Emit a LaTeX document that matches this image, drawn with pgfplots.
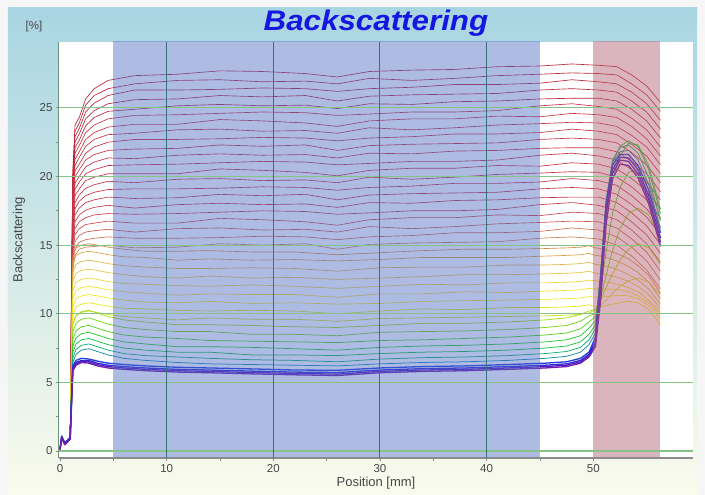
\documentclass[border=0pt]{standalone}
\usepackage{fontspec}
\setmainfont{Liberation Sans}
\usepackage{pgfplots}
\usepackage{pgfplotstable}
\pgfplotsset{compat=1.18}

\definecolor{panelTop}{RGB}{168,213,226}
\definecolor{panelBot}{RGB}{250,251,236}
\definecolor{outer}{RGB}{246,246,246}
\definecolor{titleblue}{RGB}{22,22,226}
\definecolor{tickgray}{RGB}{70,70,70}
\definecolor{axisgray}{RGB}{140,140,140}
\definecolor{axisgreen}{RGB}{110,150,120}
\definecolor{gridgreen}{RGB}{135,195,135}
\definecolor{gridteal}{RGB}{55,115,125}
\definecolor{bandblue}{RGB}{77,106,195}
\definecolor{bandred}{RGB}{177,93,111}
% curve colours, bottom (violet) to top (red)
\definecolor{cA1}{RGB}{110,30,170}
\definecolor{cA2}{RGB}{80,30,190}
\definecolor{cA3}{RGB}{50,40,215}
\definecolor{cA4}{RGB}{30,60,220}
\definecolor{cB1}{RGB}{20,140,170}
\definecolor{cB2}{RGB}{20,175,120}
\definecolor{cB3}{RGB}{25,195,70}
\definecolor{cB4}{RGB}{40,205,40}
\definecolor{cB5}{RGB}{80,210,30}
\definecolor{cB6}{RGB}{120,215,25}
\definecolor{cB7}{RGB}{165,222,20}
\definecolor{cC1}{RGB}{200,228,20}
\definecolor{cC2}{RGB}{228,230,20}
\definecolor{cC3}{RGB}{242,232,25}
\definecolor{cC4}{RGB}{242,225,35}
\definecolor{cC5}{RGB}{238,212,45}
\definecolor{cC6}{RGB}{232,198,55}
\definecolor{cC7}{RGB}{225,180,60}
\definecolor{cC8}{RGB}{218,160,65}
\definecolor{cC9}{RGB}{212,140,70}
\definecolor{cR1}{RGB}{210,125,75}
\definecolor{cR2}{RGB}{208,105,75}
\definecolor{cR3}{RGB}{206,88,75}
\definecolor{cR4}{RGB}{204,72,75}
\definecolor{cR5}{RGB}{202,60,72}
\definecolor{cR}{RGB}{200,48,68}
\definecolor{cRd}{RGB}{185,38,60}

% lower curves: blue (a), green (b), yellow (c)
\pgfplotstableread{
x a1 a2 a3 a4 b1 b2 b3 b4 b5 b6 b7 c1 c2 c3 c4 c5 c6 c7 c8 c9
0 0.1 0.15 0.05 0.2 0.15 0.15 0.15 0.15 0.15 0.15 0.15 0.15 0.15 0.15 0.15 0.15 0.15 0.15 0.15 0.15
0.15 1.0 0.95 1.1 1.05 0.95 0.95 0.95 0.95 0.95 0.95 0.95 0.95 0.95 0.95 0.95 0.95 0.95 0.95 0.95 0.95
0.45 0.45 0.5 0.55 0.6 0.5 0.5 0.5 0.5 0.5 0.5 0.5 0.5 0.5 0.5 0.5 0.5 0.5 0.5 0.5 0.5
0.95 0.85 0.9 0.95 1.0 0.9 0.9 0.9 0.9 0.9 0.9 0.9 0.9 0.9 0.9 0.9 0.9 0.9 0.9 0.9 0.9
1.08 3.4 3.6 3.8 4.0 3.75 4.0 4.2 4.5 4.8 5.1 5.4 5.75 6.1 6.5 6.85 7.2 7.6 8.0 8.35 8.7
1.2 5.85 5.95 6.05 6.2 6.45 6.8 7.2 7.65 8.15 8.7 9.25 9.3 9.9 10.5 11.1 11.7 12.35 13.0 13.65 14.2
1.5 6.25 6.35 6.45 6.6 7.05 7.4 7.8 8.25 8.75 9.3 9.85 9.9 10.5 11.1 11.7 12.3 12.95 13.6 14.25 14.8
2.0 6.45 6.55 6.6 6.75 7.35 7.7 8.1 8.55 9.05 9.6 10.15 10.1 10.7 11.3 11.9 12.5 13.15 13.8 14.45 15.0
2.7 6.4 6.5 6.6 6.7 7.45 7.8 8.2 8.65 9.15 9.7 10.25 10.2 10.8 11.4 12.0 12.6 13.25 13.9 14.55 15.1
3.5 6.2 6.3 6.4 6.55 7.25 7.6 8.0 8.45 8.95 9.5 10.05 10.1 10.7 11.3 11.9 12.5 13.15 13.8 14.45 15.0
4.5 6.05 6.15 6.25 6.4 7.0 7.35 7.75 8.2 8.7 9.25 9.8 9.95 10.55 11.15 11.75 12.35 13.0 13.65 14.3 14.85
6 5.95 6.05 6.15 6.3 6.75 7.1 7.5 7.95 8.45 9.0 9.55 9.8 10.4 11.0 11.6 12.2 12.85 13.5 14.15 14.7
8 5.85 5.95 6.05 6.2 6.6 6.95 7.35 7.8 8.3 8.85 9.4 9.7 10.35 10.85 11.5 12.15 12.7 13.4 14.1 14.55
11 5.75 5.85 5.95 6.1 6.45 6.85 7.2 7.6 8.2 8.7 9.2 9.55 10.25 10.8 11.35 12.05 12.6 13.3 13.9 14.55
14 5.7 5.8 5.9 6.05 6.35 6.75 7.2 7.6 8.05 8.7 9.2 9.7 10.2 10.9 11.45 12.0 12.75 13.3 14.0 14.6
18 5.62 5.72 5.82 5.98 6.3 6.65 7.0 7.55 8.0 8.5 9.15 9.6 10.25 10.75 11.4 12.1 12.6 13.35 13.9 14.5
22 5.55 5.65 5.75 5.9 6.25 6.6 7.0 7.45 7.95 8.5 9.05 9.6 10.2 10.8 11.4 12.0 12.65 13.3 13.95 14.5
26 5.5 5.6 5.72 5.88 6.2 6.5 6.95 7.35 7.9 8.4 9.0 9.45 10.0 10.7 11.2 11.85 12.5 13.1 13.85 14.3
30 5.7 5.8 5.9 6.05 6.35 6.7 7.1 7.55 8.05 8.65 9.15 9.65 10.2 10.75 11.45 12.0 12.6 13.35 13.95 14.45
34 5.8 5.9 6.0 6.15 6.45 6.8 7.2 7.65 8.1 8.7 9.3 9.7 10.35 10.9 11.45 12.15 12.7 13.4 14.1 14.6
38 5.85 5.95 6.05 6.2 6.5 6.85 7.25 7.7 8.2 8.75 9.3 9.75 10.3 10.95 11.6 12.1 12.85 13.4 14.1 14.7
42 5.95 6.05 6.15 6.3 6.6 6.95 7.35 7.8 8.3 8.85 9.4 9.8 10.45 11.0 11.55 12.25 12.85 13.55 14.1 14.7
45.5 6.05 6.15 6.25 6.4 6.75 7.1 7.5 7.95 8.45 9.0 9.55 9.85 10.45 11.05 11.65 12.25 12.9 13.55 14.2 14.75
47.5 6.15 6.25 6.35 6.5 6.9 7.25 7.65 8.1 8.6 9.15 9.7 9.9 10.5 11.1 11.7 12.3 12.95 13.6 14.25 14.8
48.8 6.4 6.5 6.6 6.75 7.2 7.55 7.95 8.4 8.9 9.45 9.95 9.95 10.55 11.15 11.75 12.35 13.0 13.65 14.3 14.85
49.6 6.85 6.95 7.05 7.2 7.75 8.1 8.5 8.95 9.4 9.85 10.2 10.05 10.65 11.25 11.85 12.45 13.1 13.75 14.4 14.95
50.2 7.6 7.8 8.0 8.3 8.6 8.9 9.2 9.5 9.8 10.0 10.3 10.3 10.5 11.2 11.8 12.4 12.95 13.6 14.25 14.8
50.7 11.0 11.8 12.3 12.8 13.0 13.2 13.0 12.5 11.8 11.2 11.0 10.6 10.5 11.2 11.8 12.35 12.9 13.55 14.2 14.75
51.2 16.5 17.2 17.6 18.0 18.2 18.3 17.8 16.5 14.5 12.8 11.9 11.0 10.6 11.25 11.8 12.3 12.85 13.45 14.1 14.65
51.8 19.8 20.2 20.5 20.8 21.0 21.2 21.0 19.8 17.3 14.6 12.9 11.5 10.7 11.3 11.8 12.25 12.75 13.35 13.95 14.5
52.5 20.9 21.2 21.4 21.6 21.8 22.1 22.2 21.5 19.2 16.2 13.9 12.0 10.8 11.35 11.75 12.1 12.6 13.15 13.75 14.3
53.3 20.8 21.1 21.35 21.6 21.9 22.3 22.6 22.4 20.3 17.3 14.7 12.4 10.9 11.3 11.6 11.9 12.35 12.85 13.45 14.0
54.2 19.9 20.2 20.5 20.8 21.2 21.7 22.2 22.3 20.5 17.7 15.1 12.6 10.8 11.1 11.3 11.6 12.0 12.45 13.0 13.5
55.2 18.0 18.3 18.6 19.0 19.4 19.9 20.5 20.8 19.5 17.2 14.8 12.3 10.3 10.6 10.8 11.0 11.4 11.8 12.3 12.8
56.3 14.9 15.2 15.5 15.9 16.2 16.8 17.3 17.6 16.9 15.4 13.6 11.4 9.2 9.6 9.9 10.1 10.4 10.7 11.1 11.5
}\lowtab

% upper curves: orange to red
\pgfplotstableread{
x k1 k2 k3 k4 k5 k6 k7 k8 k9 k10 k11 k12 k13 k14 k15 k16 k17 k18 k19 k20 k21 k22
0 0.15 0.15 0.15 0.15 0.15 0.15 0.15 0.15 0.15 0.15 0.15 0.15 0.15 0.15 0.15 0.15 0.15 0.15 0.15 0.15 0.15 0.15
0.15 0.95 0.95 0.95 0.95 0.95 0.95 0.95 0.95 0.95 0.95 0.95 0.95 0.95 0.95 0.95 0.95 0.95 0.95 0.95 0.95 0.95 0.95
0.45 0.5 0.5 0.5 0.5 0.5 0.5 0.5 0.5 0.5 0.5 0.5 0.5 0.5 0.5 0.5 0.5 0.5 0.5 0.5 0.5 0.5 0.5
0.95 0.9 0.9 0.9 0.9 0.9 0.9 0.9 0.9 0.9 0.9 0.9 0.9 0.9 0.9 0.9 0.9 0.9 0.9 0.9 0.9 0.9 0.9
1.08 6.8 7.0 7.3 7.6 7.8 8.1 8.4 8.6 8.9 9.2 9.5 9.7 10.0 10.3 10.5 10.8 11.1 11.3 11.6 11.9 12.2 12.4
1.2 13.2 13.6 14.0 14.45 14.85 15.2 15.6 16.0 16.4 16.7 17.1 17.4 17.8 18.1 18.4 18.7 19.0 19.3 19.6 19.9 20.2 20.4
1.4 14.25 14.75 15.25 15.75 16.2 16.7 17.2 17.65 18.1 18.6 19.05 19.5 19.95 20.4 20.8 21.25 21.7 22.1 22.5 22.9 23.3 23.75
1.8 14.7 15.2 15.7 16.2 16.7 17.2 17.7 18.2 18.65 19.1 19.6 20.0 20.5 20.9 21.4 21.8 22.25 22.65 23.1 23.5 23.9 24.3
2.4 14.85 15.4 15.95 16.5 17.0 17.55 18.1 18.6 19.15 19.7 20.2 20.7 21.2 21.7 22.2 22.7 23.2 23.7 24.2 24.7 25.2 25.65
3.2 14.9 15.5 16.05 16.6 17.2 17.75 18.3 18.85 19.4 19.95 20.5 21.05 21.6 22.15 22.7 23.2 23.75 24.3 24.8 25.35 25.9 26.4
4.5 15.0 15.6 16.15 16.75 17.3 17.9 18.5 19.05 19.65 20.2 20.8 21.35 21.9 22.5 23.05 23.6 24.2 24.75 25.3 25.9 26.4 27.0
7 14.8 15.5 15.95 16.6 17.25 17.7 18.4 19.1 19.55 20.2 20.85 21.3 22.0 22.7 23.15 23.8 24.45 24.9 25.6 26.3 26.75 27.35
11 14.85 15.5 16.2 16.6 17.3 17.95 18.45 19.1 19.8 20.2 20.9 21.55 22.05 22.7 23.4 23.8 24.5 25.15 25.65 26.3 27.0 27.45
15 15.1 15.55 16.25 16.95 17.4 18.05 18.7 19.15 19.85 20.55 21.0 21.65 22.3 22.75 23.45 24.15 24.6 25.25 25.9 26.35 27.05 27.7
19 15.0 15.65 16.1 16.85 17.5 17.95 18.6 19.25 19.7 20.45 21.1 21.55 22.2 22.85 23.3 24.05 24.7 25.15 25.8 26.45 26.9 27.65
23 15.1 15.6 16.15 16.7 17.45 18.0 18.7 19.2 19.75 20.3 21.05 21.6 22.3 22.8 23.35 23.9 24.65 25.2 25.9 26.4 26.95 27.5
26 14.7 15.4 15.95 16.45 17.25 17.75 18.3 19.0 19.55 20.05 20.85 21.35 21.9 22.6 23.15 23.65 24.45 24.95 25.5 26.2 26.75 27.25
29 15.05 15.6 16.35 16.85 17.35 18.1 18.65 19.2 19.95 20.45 20.95 21.7 22.25 22.8 23.55 24.05 24.55 25.3 25.85 26.4 27.15 27.65
33 15.15 15.7 16.2 17.0 17.5 18.05 18.75 19.3 19.8 20.6 21.1 21.65 22.35 22.9 23.4 24.2 24.7 25.25 25.95 26.5 27.0 27.75
37 15.2 15.9 16.35 17.0 17.5 18.25 18.8 19.5 19.95 20.6 21.1 21.85 22.4 23.1 23.55 24.2 24.7 25.45 26.0 26.7 27.15 27.8
41 15.25 15.9 16.55 17.2 17.6 18.3 18.85 19.5 20.15 20.8 21.2 21.9 22.45 23.1 23.75 24.4 24.8 25.5 26.05 26.7 27.35 28.0
45 15.5 16.0 16.65 17.15 17.95 18.45 19.1 19.6 20.25 20.75 21.55 22.05 22.7 23.2 23.85 24.35 25.15 25.65 26.3 26.8 27.45 28.05
48 15.6 16.25 16.75 17.4 18.1 18.5 19.2 19.85 20.35 21.0 21.7 22.1 22.8 23.45 23.95 24.6 25.3 25.7 26.4 27.05 27.55 28.2
50.5 15.45 16.1 16.7 17.3 17.9 18.5 19.1 19.7 20.3 20.9 21.5 22.1 22.7 23.3 23.9 24.5 25.1 25.7 26.3 26.9 27.5 28.1
52.2 15.0 15.6 16.25 16.85 17.5 18.1 18.7 19.35 19.95 20.55 21.2 21.8 22.45 23.05 23.65 24.3 24.9 25.5 26.15 26.75 27.4 28.0
53.6 14.2 14.85 15.45 16.1 16.7 17.35 17.95 18.6 19.25 19.85 20.5 21.1 21.75 22.35 23.0 23.65 24.25 24.9 25.5 26.15 26.75 27.4
55 13.2 13.85 14.5 15.1 15.75 16.4 17.05 17.65 18.3 18.95 19.6 20.2 20.85 21.5 22.15 22.75 23.4 24.05 24.7 25.3 25.95 26.6
56.3 11.8 12.45 13.1 13.75 14.4 15.05 15.7 16.35 17.0 17.65 18.3 18.9 19.55 20.2 20.85 21.5 22.15 22.8 23.45 24.1 24.75 25.4
}\hightab

\newcommand\crv[3]{\addplot[#3] table[x=x,y=#2]{#1};}

\begin{document}
\begin{tikzpicture}
\useasboundingbox (-59pt,-37pt) rectangle (646pt,458pt);
\fill[outer] (-59pt,-37pt) rectangle (646pt,458pt);
\shade[top color=panelTop, bottom color=panelBot] (-51pt,-37pt) rectangle (638pt,450pt);
\begin{axis}[
  scale only axis, width=634pt, height=416pt,
  xmin=-0.1, xmax=59.35, ymin=-0.51, ymax=29.8,
  axis background/.style={fill=white},
  axis on top,
  axis x line*=bottom, axis y line*=left,
  x axis line style={draw=axisgray, line width=1.6pt},
  y axis line style={draw=axisgreen, line width=1pt},
  xtick={0,10,...,50}, ytick={0,5,...,25},
  minor x tick num=1, minor y tick num=1,
  tick align=outside, major tick length=3pt, minor tick length=3pt,
  tick style={draw=axisgray, line width=0.8pt},
  ymajorgrids, major grid style={draw=gridgreen, line width=1.1pt},
  extra x ticks={10,20,30,40}, extra x tick labels={},
  extra x tick style={grid=major, major grid style={draw=gridteal, line width=1pt}, major tick length=0pt},
  tick label style={font=\fontsize{11.5}{13}\selectfont, text=tickgray},
  /pgf/number format/assume math mode=true,
  every axis title/.style={at={(axis description cs:0.5,1.0288)}, anchor=base, inner sep=0pt, text=titleblue},
  title={\scalebox{1.16}[1.05]{\fontsize{27}{30}\selectfont\bfseries\itshape Backscattering}},
  every axis x label/.style={at={(axis description cs:0.5,-0.0697)}, anchor=base, inner sep=0pt, text=tickgray, font=\fontsize{13}{15}\selectfont},
  xlabel={Position [mm]},
  every axis y label/.style={at={(axis description cs:-0.0631,0.524)}, rotate=90, anchor=center, inner sep=0pt, text=tickgray, font=\fontsize{13}{15}\selectfont},
  ylabel={Backscattering},
  every axis plot/.append style={line join=round},
]
% red family
\crv{\hightab}{k22}{draw=cRd, line width=0.65pt}
\crv{\hightab}{k21}{draw=cRd, line width=0.65pt}
\crv{\hightab}{k20}{draw=cRd, line width=0.65pt}
\crv{\hightab}{k19}{draw=cRd, line width=0.65pt}
\crv{\hightab}{k18}{draw=cRd, line width=0.65pt}
\crv{\hightab}{k17}{draw=cR, line width=0.65pt}
\crv{\hightab}{k16}{draw=cR, line width=0.65pt}
\crv{\hightab}{k15}{draw=cR, line width=0.65pt}
\crv{\hightab}{k14}{draw=cR, line width=0.65pt}
\crv{\hightab}{k13}{draw=cR, line width=0.65pt}
\crv{\hightab}{k12}{draw=cR, line width=0.65pt}
\crv{\hightab}{k11}{draw=cR, line width=0.65pt}
\crv{\hightab}{k10}{draw=cR, line width=0.65pt}
\crv{\hightab}{k9}{draw=cR, line width=0.65pt}
\crv{\hightab}{k8}{draw=cR, line width=0.65pt}
\crv{\hightab}{k7}{draw=cR, line width=0.65pt}
\crv{\hightab}{k6}{draw=cR, line width=0.65pt}
\crv{\hightab}{k5}{draw=cR5, line width=0.65pt}
\crv{\hightab}{k4}{draw=cR4, line width=0.65pt}
\crv{\hightab}{k3}{draw=cR3, line width=0.65pt}
\crv{\hightab}{k2}{draw=cR2, line width=0.65pt}
\crv{\hightab}{k1}{draw=cR1, line width=0.65pt}
% yellow family
\crv{\lowtab}{c9}{draw=cC9, line width=0.65pt}
\crv{\lowtab}{c8}{draw=cC8, line width=0.65pt}
\crv{\lowtab}{c7}{draw=cC7, line width=0.65pt}
\crv{\lowtab}{c6}{draw=cC6, line width=0.65pt}
\crv{\lowtab}{c5}{draw=cC5, line width=0.65pt}
\crv{\lowtab}{c4}{draw=cC4, line width=0.65pt}
\crv{\lowtab}{c3}{draw=cC3, line width=0.65pt}
\crv{\lowtab}{c2}{draw=cC2, line width=0.65pt}
\crv{\lowtab}{c1}{draw=cC1, line width=0.65pt}
% green family
\crv{\lowtab}{b7}{draw=cB7, line width=0.75pt}
\crv{\lowtab}{b6}{draw=cB6, line width=0.75pt}
\crv{\lowtab}{b5}{draw=cB5, line width=0.75pt}
\crv{\lowtab}{b4}{draw=cB4, line width=0.75pt}
\crv{\lowtab}{b3}{draw=cB3, line width=0.75pt}
\crv{\lowtab}{b2}{draw=cB2, line width=0.75pt}
\crv{\lowtab}{b1}{draw=cB1, line width=0.75pt}
% blue family
\crv{\lowtab}{a4}{draw=cA4, line width=1.3pt}
\crv{\lowtab}{a3}{draw=cA3, line width=1.3pt}
\crv{\lowtab}{a2}{draw=cA2, line width=1.3pt}
\crv{\lowtab}{a1}{draw=cA1, line width=1.3pt}
% shaded zones
\addplot[draw=none, fill=bandblue, fill opacity=0.45] coordinates {(5,-1) (45,-1) (45,31) (5,31)} -- cycle;
\addplot[draw=none, fill=bandred, fill opacity=0.45] coordinates {(50,-1) (56.3,-1) (56.3,31) (50,31)} -- cycle;
\end{axis}
\node[anchor=center, text=tickgray, font=\fontsize{11.5}{13}\selectfont] at (-25pt,431pt) {[\%]};
\end{tikzpicture}
\end{document}
